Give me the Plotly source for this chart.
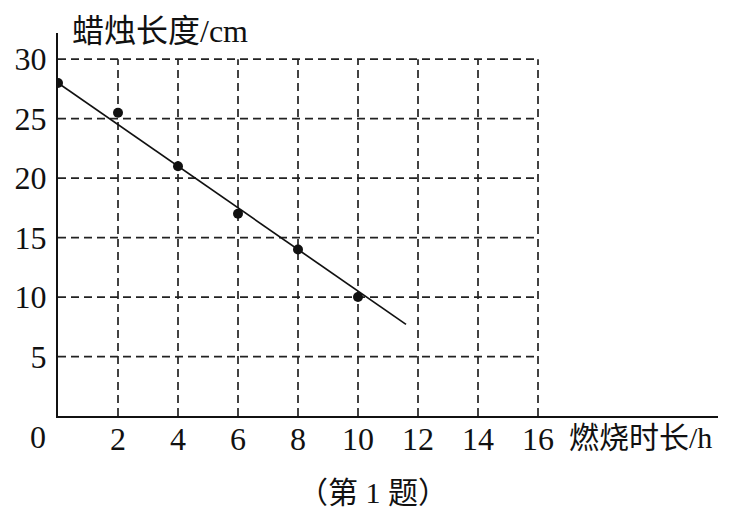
import plotly.graph_objects as go

# data
hours = [0, 2, 4, 6, 8, 10]
lengths = [28, 25.5, 21, 17, 14, 10]
fit_x = [0, 11.6]
fit_y = [28, 28 - 1.75 * 11.6]
x_ticks = [2, 4, 6, 8, 10, 12, 14, 16]
y_ticks = [5, 10, 15, 20, 25, 30]
x_max = 22
y_max = 32.2
grid_x_max = 16
grid_y_max = 30

SERIF = "Liberation Serif, Noto Sans CJK SC, serif"
CJK = "Liberation Serif, Noto Sans CJK SC, sans-serif"

fig = go.Figure()

# dashed grid (only up to 16 h / 30 cm)
gx, gy = [], []
for t in x_ticks:
    gx += [t, t, None]
    gy += [0, grid_y_max, None]
for t in y_ticks:
    gx += [0, grid_x_max, None]
    gy += [t, t, None]
fig.add_trace(go.Scatter(x=gx, y=gy, mode="lines",
                         line=dict(color="#222", width=1.7, dash="8px,5px"),
                         hoverinfo="skip", showlegend=False))

# fitted line
fig.add_trace(go.Scatter(x=fit_x, y=fit_y, mode="lines",
                         line=dict(color="#111", width=1.7), showlegend=False))

# data points
fig.add_trace(go.Scatter(x=hours, y=lengths, mode="markers",
                         marker=dict(color="#111", size=10), showlegend=False))

fig.update_layout(
    width=733, height=522,
    margin=dict(l=58, r=15, t=33, b=106),
    paper_bgcolor="white", plot_bgcolor="white",
    showlegend=False,
    xaxis=dict(range=[0, x_max], showgrid=False, zeroline=False,
               showline=True, linecolor="#111", linewidth=2,
               tickmode="array", tickvals=x_ticks, ticktext=[str(t) for t in x_ticks],
               ticks="", ticklabelstandoff=-6,
               tickfont=dict(family=SERIF, size=32, color="#111")),
    yaxis=dict(range=[0, y_max], showgrid=False, zeroline=False,
               showline=True, linecolor="#111", linewidth=2,
               tickmode="array", tickvals=y_ticks, ticktext=[str(t) for t in y_ticks],
               ticks="", ticklabelstandoff=3,
               tickfont=dict(family=SERIF, size=32, color="#111")),
    annotations=[
        dict(text="0", x=0, y=0, xref="x", yref="y", xshift=-20, yshift=-21,
             showarrow=False, font=dict(family=SERIF, size=32, color="#111"),
             xanchor="center", yanchor="middle"),
        dict(text="蜡烛长度/cm", x=0.018, y=1.005, xref="paper", yref="paper",
             showarrow=False, font=dict(family=CJK, size=32, color="#111"),
             xanchor="left", yanchor="middle"),
        dict(text="燃烧时长/h", x=0.771, y=-0.055, xref="paper", yref="paper",
             showarrow=False, font=dict(family=CJK, size=30, color="#111"),
             xanchor="left", yanchor="middle"),
        dict(text="（第\u00a01\u00a0题）", x=0.477, y=-0.201, xref="paper", yref="paper",
             showarrow=False, font=dict(family=CJK, size=30, color="#111"),
             xanchor="center", yanchor="middle"),
    ],
)

fig.write_html("out.html", config={"displayModeBar": False},
               post_script="document.body.style.margin='0';")
